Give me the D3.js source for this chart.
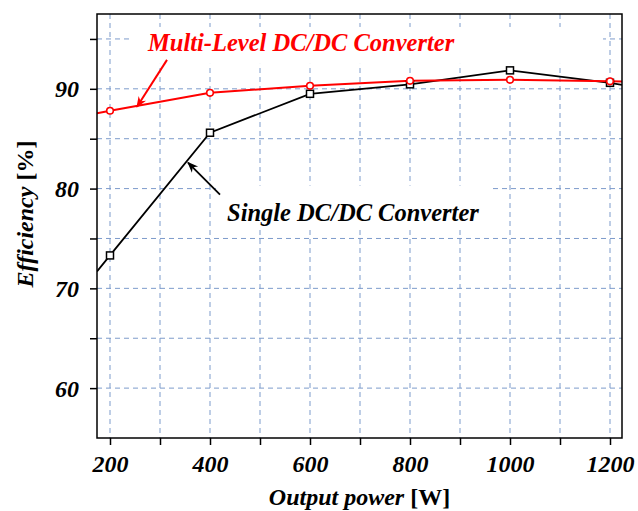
<!DOCTYPE html>
<meta charset="utf-8">
<script src="https://d3js.org/d3.v7.min.js"></script>
<style>
  body { margin: 0; background: #fff; }
</style>
<div id="chart"></div>
<script>

// ---- data ----
var power      = [200, 400, 600, 800, 1000, 1200]
var multiLevel = [87.8, 89.6, 90.3, 90.8, 90.9, 90.75]
var single     = [73.3, 85.6, 89.5, 90.45, 91.85, 90.6]

// where the lines run out of the frame
var edgePower  = [174, 1224]
var multiEdge  = [87.55, 90.73]
var singleEdge = [71.7, 90.4]

var xTicks = [200, 400, 600, 800, 1000, 1200]
var yTicks = [60, 70, 80, 90]

var serif = "'Liberation Serif', 'Times New Roman', serif"

var w = 638
var h = 511
var margin = {top: 14, right: 16, bottom: 73, left: 97},
    innerWidth = w - margin.left - margin.right,
    innerHeight = h - margin.top - margin.bottom;

var svg = d3.select("#chart")
  .append("svg")
    .attr("width", w)
    .attr("height", h)

var g = svg.append("g")
  .attr("transform", `translate(${margin.left},${margin.top})`)

var xScale = d3.scaleLinear()
  .domain([174, 1224])
  .range([0, innerWidth])

var yScale = d3.scaleLinear()
  .domain([55, 97.5])
  .range([innerHeight, 0])

var gridColor = "#7d9bcb"

////  grid
g.append("g")
  .selectAll("line")
  .data(d3.range(200, 1201, 100))
  .enter().append("line")
    .attr("x1", d => xScale(d)).attr("x2", d => xScale(d))
    .attr("y1", 0).attr("y2", innerHeight)
    .attr("stroke", gridColor).attr("stroke-width", 1)
    .attr("stroke-dasharray", "5,4")

g.append("g")
  .selectAll("line")
  .data(d3.range(60, 96, 5))
  .enter().append("line")
    .attr("y1", d => yScale(d)).attr("y2", d => yScale(d))
    .attr("x1", 0).attr("x2", innerWidth)
    .attr("stroke", gridColor).attr("stroke-width", 1)
    .attr("stroke-dasharray", "5,4")

////  label boxes (they hide the grid behind the text)
g.append("rect")
  .attr("x", xScale(246)).attr("y", yScale(96.2))
  .attr("width", xScale(1186) - xScale(246)).attr("height", yScale(92.5) - yScale(96.2))
  .attr("fill", "#fff")

g.append("rect")
  .attr("x", xScale(412)).attr("y", yScale(80.3))
  .attr("width", xScale(960) - xScale(412)).attr("height", yScale(75.9) - yScale(80.3))
  .attr("fill", "#fff")

////  series
svg.append("clipPath").attr("id", "plotclip")
  .append("rect").attr("width", innerWidth).attr("height", innerHeight)

function series(vals, edge) {
  var pts = power.map((p, i) => [p, vals[i]])
  pts.unshift([edgePower[0], edge[0]])
  pts.push([edgePower[1], edge[1]])
  return pts
}

var line = d3.line()
  .x(d => xScale(d[0]))
  .y(d => yScale(d[1]))

var plot = g.append("g").attr("clip-path", "url(#plotclip)")

plot.append("path")
  .datum(series(single, singleEdge))
  .attr("d", line)
  .attr("fill", "none")
  .attr("stroke", "#000")
  .attr("stroke-width", 1.8)

plot.append("path")
  .datum(series(multiLevel, multiEdge))
  .attr("d", line)
  .attr("fill", "none")
  .attr("stroke", "#ff0000")
  .attr("stroke-width", 2)

plot.selectAll(".sq")
  .data(power)
  .enter().append("rect")
    .attr("class", "sq")
    .attr("x", d => xScale(d) - 3.5)
    .attr("y", (d, i) => yScale(single[i]) - 3.5)
    .attr("width", 7).attr("height", 7)
    .attr("fill", "#fff").attr("stroke", "#000").attr("stroke-width", 1.5)

plot.selectAll(".ci")
  .data(power)
  .enter().append("circle")
    .attr("class", "ci")
    .attr("cx", d => xScale(d))
    .attr("cy", (d, i) => yScale(multiLevel[i]))
    .attr("r", 3.3)
    .attr("fill", "#fff").attr("stroke", "#ff0000").attr("stroke-width", 1.6)

////  frame
g.append("rect")
  .attr("width", innerWidth).attr("height", innerHeight)
  .attr("fill", "none").attr("stroke", "#000").attr("stroke-width", 1.5)

////  axes
var xAxis = g.append("g")
  .attr("transform", `translate(0,${innerHeight})`)
  .call(d3.axisBottom(xScale)
    .tickValues(d3.range(200, 1201, 100))
    .tickSize(7).tickPadding(10)
    .tickFormat(d => xTicks.includes(d) ? d : ""))
xAxis.select(".domain").remove()

var yAxis = g.append("g")
  .call(d3.axisLeft(yScale)
    .tickValues(d3.range(60, 96, 5))
    .tickSize(7).tickPadding(11)
    .tickFormat(d => yTicks.includes(d) ? d : ""))
yAxis.select(".domain").remove()

// minor ticks carry no label
svg.selectAll(".tick text").filter(function() { return this.textContent === "" }).remove()

svg.selectAll(".tick line").attr("stroke", "#000").attr("stroke-width", 1.5)
svg.selectAll(".tick text")
  .attr("fill", "#000")
  .style("font-family", serif)
  .style("font-size", "24px")
  .style("font-style", "italic")
  .style("font-weight", "bold")
yAxis.selectAll(".tick text").attr("dy", "0.34em")

////  axis titles
var xlabel = svg.append("text")
  .attr("text-anchor", "middle")
  .attr("x", margin.left + innerWidth / 2)
  .attr("y", 505)
  .style("font-family", serif).style("font-weight", "bold")
  .style("font-size", "24px")
xlabel.append("tspan").style("font-style", "italic").text("Output power ")
xlabel.append("tspan").text("[W]")

var ylabel = svg.append("text")
  .attr("text-anchor", "middle")
  .attr("transform", "translate(33,214) rotate(-90)")
  .style("font-family", serif).style("font-weight", "bold")
  .style("font-size", "24px")
ylabel.append("tspan").style("font-style", "italic").text("Efficiency ")
ylabel.append("tspan").text("[%]")

////  annotations
var defs = svg.append("defs")
function marker(id, color) {
  defs.append("marker")
    .attr("id", id)
    .attr("viewBox", "0 0 10 10")
    .attr("refX", 9).attr("refY", 5)
    .attr("markerWidth", 11).attr("markerHeight", 11)
    .attr("markerUnits", "userSpaceOnUse")
    .attr("orient", "auto")
    .append("path")
      .attr("d", "M0,1 L10,5 L0,9 L3,5 Z")
      .attr("fill", color)
}
marker("arrRed", "#ff0000")
marker("arrBlack", "#000")

g.append("line")
  .attr("x1", xScale(314)).attr("y1", yScale(92.9))
  .attr("x2", xScale(254)).attr("y2", yScale(88.2))
  .attr("stroke", "#ff0000").attr("stroke-width", 2)
  .attr("marker-end", "url(#arrRed)")

g.append("line")
  .attr("x1", xScale(420)).attr("y1", yScale(79.4))
  .attr("x2", xScale(356)).attr("y2", yScale(82.6))
  .attr("stroke", "#000").attr("stroke-width", 1.8)
  .attr("marker-end", "url(#arrBlack)")

g.append("text")
  .attr("x", xScale(276)).attr("y", yScale(93.8))
  .attr("fill", "#ff0000")
  .style("font-family", serif).style("font-weight", "bold")
  .style("font-size", "24.5px").style("font-style", "italic")
  .text("Multi-Level DC/DC Converter")

g.append("text")
  .attr("x", xScale(434)).attr("y", yScale(76.8))
  .attr("fill", "#000")
  .style("font-family", serif).style("font-weight", "bold")
  .style("font-size", "24.5px").style("font-style", "italic")
  .text("Single DC/DC Converter")

</script>
